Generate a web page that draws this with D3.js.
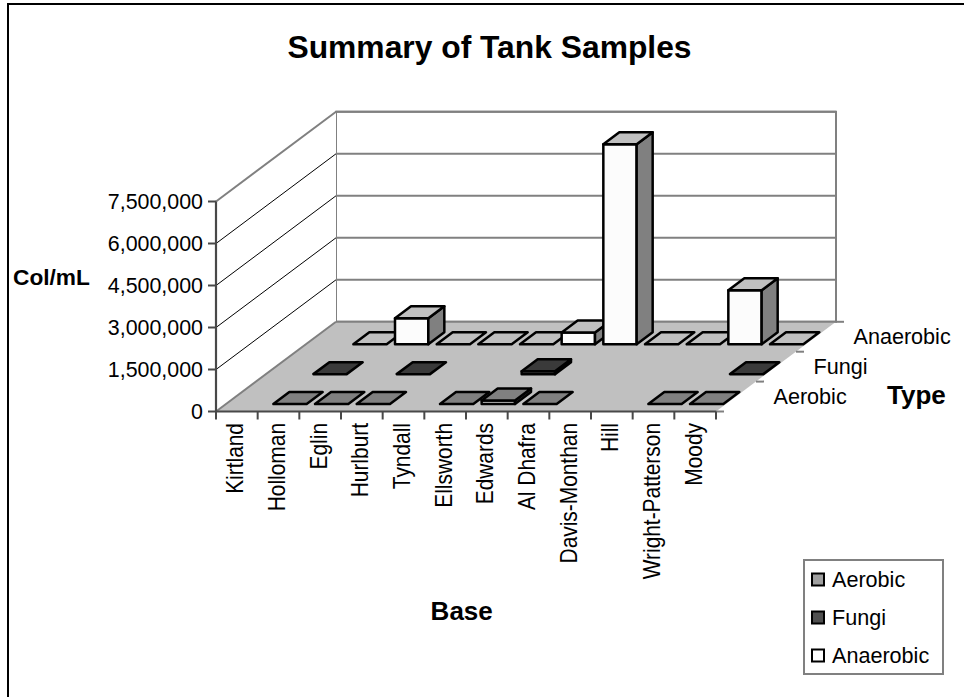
<!DOCTYPE html>
<html><head><meta charset="utf-8">
<script src="https://cdn.jsdelivr.net/npm/d3@7/dist/d3.min.js"></script>
<style>html,body{margin:0;padding:0;background:#fff}svg{display:block}text{font-family:"Liberation Sans",Arial,sans-serif;fill:#000}</style>
</head><body><svg id="c" width="964" height="697"></svg>
<script>
const categories=["Kirtland","Holloman","Eglin","Hurlburt","Tyndall","Ellsworth","Edwards","Al Dhafra","Davis-Monthan","Hill","Wright-Patterson","Moody"];
const seriesNames=["Aerobic","Fungi","Anaerobic"];
const aerobic=[null,0,0,0,null,0,130000,0,null,null,0,0];
const fungi=[null,0,null,0,null,null,100000,null,null,null,null,0];
const anaerobic=[null,0,930000,0,0,0,420000,7140000,0,0,1930000,0];
const valueTicks=[0,1500000,3000000,4500000,6000000,7500000];
const seriesValues=[aerobic,fungi,anaerobic];
const frontC=["#d4d4d4","#808080","#fcfcfc"],topC=["#808080","#3a3a3a","#c0c0c0"],sideC=["#4a4a4a","#1c1c1c","#808080"],swatchC=["#a0a0a0","#505050","#ffffff"];

const svg=d3.select("#c");
const x=d3.scaleLinear().domain([0,12]).range([216,716]);
const band=d3.scaleBand().domain(d3.range(12)).range([217.5,717.5]).paddingInner(.2).paddingOuter(.1);
const y=d3.scaleLinear().domain([0,7500000]).range([411.5,201.5]);
const dx=d3.scaleLinear().domain([0,3]).range([0,120]);
const dy=d3.scaleLinear().domain([0,3]).range([0,-89.7]);
const P=(px,d,v)=>[px+dx(d),y(v)+dy(d)];
const pts=a=>a.map(p=>p.join(",")).join(" ");
const W="#808080",AX="#484848";

// walls
svg.append("polygon").attr("points",pts([P(216,3,0),P(716,3,0),P(716,3,7500000),P(216,3,7500000)])).attr("fill","#fff").attr("stroke",W).attr("stroke-width",2);
svg.append("polygon").attr("points",pts([P(216,0,0),P(216,3,0),P(216,3,7500000),P(216,0,7500000)])).attr("fill","#fff");
valueTicks.forEach(v=>{
  if(v>0){
    svg.append("line").attr("x1",P(216,3,v)[0]).attr("y1",P(216,3,v)[1]).attr("x2",P(716,3,v)[0]).attr("y2",P(716,3,v)[1]).attr("stroke",W).attr("stroke-width",2);
    const top=v===7500000;
    svg.append("line").attr("x1",P(216,0,v)[0]).attr("y1",P(216,0,v)[1]).attr("x2",P(216,3,v)[0]).attr("y2",P(216,3,v)[1]).attr("stroke",top?W:"#000").attr("stroke-width",top?2:1);
  }
});
// floor
svg.append("polygon").attr("points",pts([P(216,0,0),P(716,0,0),P(716,3,0),P(216,3,0)])).attr("fill","#c0c0c0");
svg.append("line").attr("x1",P(216,0,0)[0]).attr("y1",P(216,0,0)[1]).attr("x2",P(216,3,0)[0]).attr("y2",P(216,3,0)[1]).attr("stroke",W).attr("stroke-width",2);
svg.append("line").attr("x1",P(216,3,0)[0]).attr("y1",P(216,3,0)[1]).attr("x2",P(716,3,0)[0]).attr("y2",P(716,3,0)[1]).attr("stroke",W).attr("stroke-width",2);
// depth ticks
d3.range(0,4).forEach(d=>{const p=P(716,d,0);svg.append("line").attr("x1",p[0]).attr("y1",p[1]).attr("x2",p[0]+8).attr("y2",p[1]).attr("stroke",W).attr("stroke-width",2);});
// axes
svg.append("line").attr("x1",216).attr("y1",y(7500000)).attr("x2",216).attr("y2",y(0)).attr("stroke",AX).attr("stroke-width",2.2);
svg.append("line").attr("x1",216).attr("y1",y(0)).attr("x2",716).attr("y2",y(0)).attr("stroke",AX).attr("stroke-width",2.2);
valueTicks.forEach(v=>{
  svg.append("line").attr("x1",208).attr("y1",y(v)).attr("x2",216).attr("y2",y(v)).attr("stroke",AX).attr("stroke-width",2);
  svg.append("text").attr("transform",`translate(203,${y(v)+7.7}) scale(1,1.05)`).attr("text-anchor","end").attr("font-size",21.4).text(d3.format(",")(v));
});
d3.range(0,13).forEach(i=>{svg.append("line").attr("x1",x(i)).attr("y1",y(0)).attr("x2",x(i)).attr("y2",y(0)+8).attr("stroke",AX).attr("stroke-width",2);});
categories.forEach((c,i)=>{
  svg.append("text").attr("transform",`translate(${x(i+.5)+6.5},423) rotate(-90) scale(1,1.13)`).attr("text-anchor","end").attr("font-size",20.9).text(c);
});
// bars, back row first
const d0=.25,d1=.65;
[2,1,0].forEach(s=>{
  seriesValues[s].forEach((v,i)=>{
    if(v===null)return;
    const l=band(i),r=l+band.bandwidth(),a=s+d0,b=s+d1;
    const g=svg.append("g").attr("stroke","#000").attr("stroke-width",2.5).attr("stroke-linejoin","round");
    if(v>0){
      g.append("polygon").attr("points",pts([P(l,a,0),P(r,a,0),P(r,a,v),P(l,a,v)])).attr("fill",frontC[s]);
      g.append("polygon").attr("points",pts([P(r,a,0),P(r,b,0),P(r,b,v),P(r,a,v)])).attr("fill",sideC[s]);
    }
    g.append("polygon").attr("points",pts([P(l,a,v),P(r,a,v),P(r,b,v),P(l,b,v)])).attr("fill",topC[s]);
  });
});
// depth labels
seriesNames.forEach((n,s)=>{
  const p=P(716,s+.5,0);
  svg.append("text").attr("transform",`translate(${p[0]+37.5},${p[1]+7.7}) scale(1,1.05)`).attr("font-size",21.6).text(n);
});
// titles
const bold=(t,xx,yy,fs,an)=>svg.append("text").attr("x",xx).attr("y",yy).attr("font-size",fs).attr("font-weight","bold").attr("text-anchor",an||"start").text(t);
bold("Summary of Tank Samples",489.5,57.5,31.8,"middle");
bold("Col/mL",13,285,22.7);
bold("Type",887,404,26);
bold("Base",461.7,619.5,26,"middle");
// frame
svg.append("path").attr("d","M8,697V4H964").attr("fill","none").attr("stroke","#000").attr("stroke-width",2);
// legend
svg.append("rect").attr("x",804).attr("y",560).attr("width",139).attr("height",114).attr("fill","#fff").attr("stroke",W).attr("stroke-width",2);
seriesNames.forEach((n,s)=>{
  const yy=579.5+38*s;
  svg.append("rect").attr("x",812).attr("y",yy-6).attr("width",12).attr("height",12).attr("fill",swatchC[s]).attr("stroke","#000").attr("stroke-width",2);
  svg.append("text").attr("transform",`translate(832,${yy+7.2}) scale(1,1.05)`).attr("font-size",21.6).text(n);
});
</script></body></html>
